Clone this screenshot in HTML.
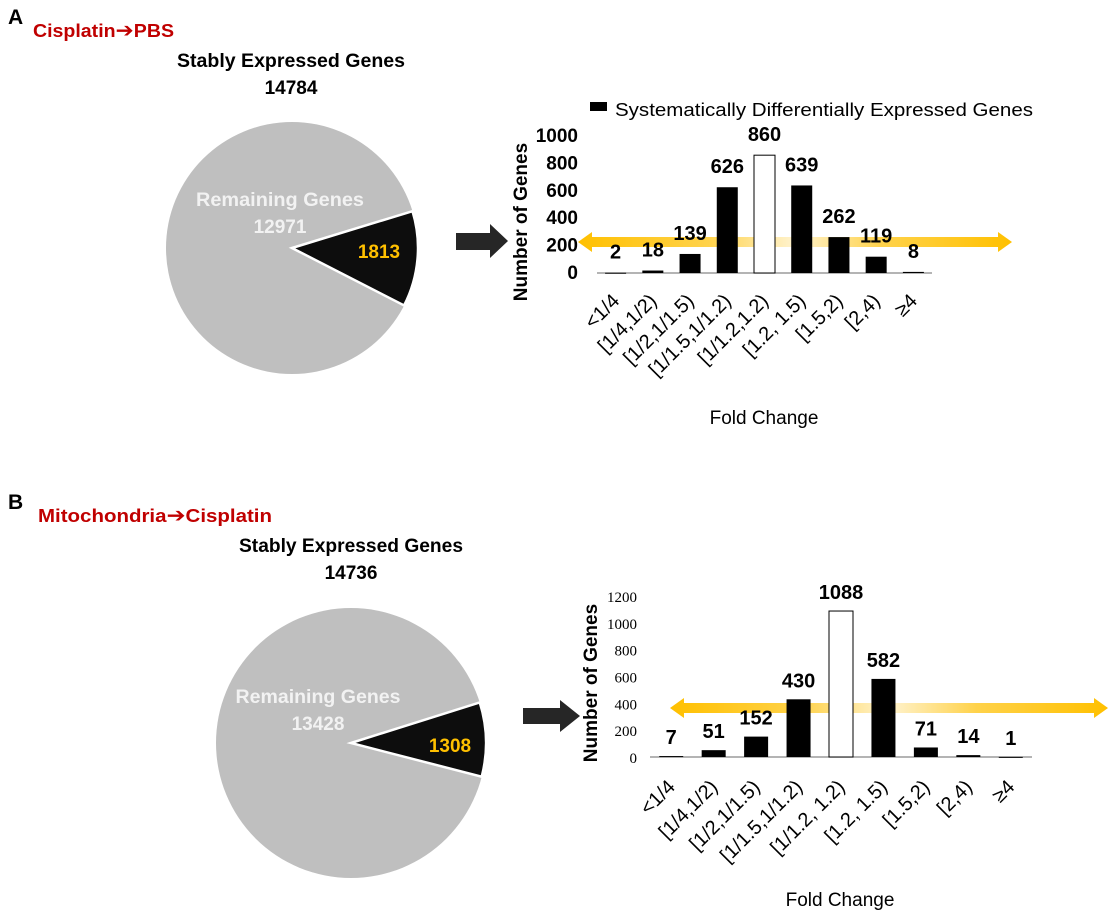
<!DOCTYPE html>
<html><head><meta charset="utf-8"><style>
body{margin:0;background:#fff}
svg{display:block;font-family:"Liberation Sans",sans-serif}
.arr{font-family:"DejaVu Sans",sans-serif;font-weight:bold}
</style></head><body>
<svg id="fig" width="1113" height="919" viewBox="0 0 1113 919">
<defs>
<linearGradient id="gy" x1="0" x2="1" y1="0" y2="0">
<stop offset="0" stop-color="#ffc000"/><stop offset="0.3" stop-color="#ffd24a"/><stop offset="0.5" stop-color="#fff3cf"/><stop offset="0.7" stop-color="#ffd24a"/><stop offset="1" stop-color="#ffc000"/>
</linearGradient>
</defs>
<g>
<text x="8" y="24" font-size="21" font-weight="bold">A</text>
<text x="33" y="37" font-size="18" font-weight="bold" fill="#c00000" textLength="141" lengthAdjust="spacingAndGlyphs">Cisplatin<tspan class="arr" font-size="20">➔</tspan>PBS</text>
<text x="291" y="67" font-size="19" font-weight="bold" text-anchor="middle" textLength="228" lengthAdjust="spacingAndGlyphs">Stably Expressed Genes</text>
<text x="291" y="94" font-size="19" font-weight="bold" text-anchor="middle">14784</text>
<g id="pieA"></g>
<polygon points="456,233 490,233 490,224 508,241 490,258 490,250 456,250" fill="#262626"/>
<g id="chartA"></g>
</g>
<g>
<text x="8" y="509" font-size="21" font-weight="bold">B</text>
<text x="38" y="522" font-size="18" font-weight="bold" fill="#c00000" textLength="234" lengthAdjust="spacingAndGlyphs">Mitochondria<tspan class="arr" font-size="20">➔</tspan>Cisplatin</text>
<text x="351" y="552" font-size="19" font-weight="bold" text-anchor="middle" textLength="224" lengthAdjust="spacingAndGlyphs">Stably Expressed Genes</text>
<text x="351" y="579" font-size="19" font-weight="bold" text-anchor="middle">14736</text>
<g id="pieB"></g>
<polygon points="523,708 560,708 560,700 580,716 560,732 560,724 523,724" fill="#262626"/>
<g id="chartB"></g>
</g>
</svg>
<script>
const categories = ["<1/4","[1/4,1/2)","[1/2,1/1.5)","[1/1.5,1/1.2)","[1/1.2,1.2)","[1.2, 1.5)","[1.5,2)","[2,4)","≥4"];
const categoriesB = ["<1/4","[1/4,1/2)","[1/2,1/1.5)","[1/1.5,1/1.2)","[1/1.2, 1.2)","[1.2, 1.5)","[1.5,2)","[2,4)","≥4"];
const valuesA = [2,18,139,626,860,639,262,119,8];
const valuesB = [7,51,152,430,1088,582,71,14,1];
const ticksA = [0,200,400,600,800,1000];
const ticksB = [0,200,400,600,800,1000,1200];
const pieA = [12971,1813];
const pieB = [13428,1308];
const NS="http://www.w3.org/2000/svg";
function mk(tag,attrs,parent,txt){const e=document.createElementNS(NS,tag);for(const k in attrs)e.setAttribute(k,attrs[k]);if(txt!==undefined)e.textContent=txt;parent.appendChild(e);return e;}

function drawPie(g,vals,cx,cy,r,startDeg,labels){
  const total=vals[0]+vals[1];
  const a1=startDeg*Math.PI/180;
  const sweep=vals[1]/total*2*Math.PI;
  const a2=a1+sweep;
  const bg=mk('circle',{cx:cx,cy:cy,r:r,fill:'#bfbfbf'},g);
  
  
  const p1=[cx+r*Math.cos(a1),cy+r*Math.sin(a1)],p2=[cx+r*Math.cos(a2),cy+r*Math.sin(a2)];
  const sl=mk('path',{d:`M${cx},${cy}L${p1[0]},${p1[1]}A${r},${r} 0 0 1 ${p2[0]},${p2[1]}Z`,fill:'#0d0d0d',stroke:'#fff','stroke-width':2.5},g);
  
  
  const t1=mk('text',{x:labels.rx,y:labels.ry,'font-size':19,'font-weight':'bold',fill:'#f2f2f2','text-anchor':'middle',textLength:labels.rw,lengthAdjust:'spacingAndGlyphs'},g,'Remaining Genes');
  
  
  const t2=mk('text',{x:labels.rx,y:labels.ry+27,'font-size':19,'font-weight':'bold',fill:'#f2f2f2','text-anchor':'middle'},g,String(vals[0]));
  
  
  const t3=mk('text',{x:labels.dx,y:labels.dy,'font-size':19,'font-weight':'bold',fill:'#ffc000','text-anchor':'middle'},g,String(vals[1]));
  
  
}
drawPie(document.getElementById('pieA'),pieA,292,248,126,-17,{rx:280,ry:206,rw:168,dx:379,dy:258});
drawPie(document.getElementById('pieB'),pieB,351,743,135,-17.5,{rx:318,ry:703,rw:165,dx:450,dy:752});

function drawChart(g,o){
  const n=o.cats.length,bw=(o.x1-o.x0)/n;
  const y=v=>o.base-(v/o.max)*(o.base-o.top);
  const xc=i=>o.x0+bw*(i+0.5);
  o.ticks.forEach(t=>{
    const e=mk('text',{x:o.tickX,y:y(t)+6,'font-size':o.tickFS,'font-weight':o.tickW,'font-family':o.tickFont,'text-anchor':'end'},g,String(t));
    
    
  });
  const ay=o.arrowY,ax0=o.ax0,ax1=o.ax1;
  const ar=mk('polygon',{points:`${ax0},${ay} ${ax0+14},${ay-10} ${ax0+14},${ay-5} ${ax1-14},${ay-5} ${ax1-14},${ay-10} ${ax1},${ay} ${ax1-14},${ay+10} ${ax1-14},${ay+5} ${ax0+14},${ay+5} ${ax0+14},${ay+10}`,fill:'url(#gy)'},g);
  
  
  const ax=mk('line',{x1:o.x0,x2:o.x1,y1:o.base,y2:o.base,stroke:'#888','stroke-width':1.3},g);
  
  
  o.vals.forEach((v,i)=>{
    const c=xc(i),top=y(v);
    const white=i===4;
    const r=mk('rect',{x:c-o.barW/2,y:top,width:o.barW,height:Math.max(o.base-top,1),fill:white?'#fff':'#000',stroke:white?'#000':'none','stroke-width':1},g);
    
    
    const t=mk('text',{x:c,y:top-o.valOff,'font-size':20,'font-weight':'bold','text-anchor':'middle'},g,String(v));
    
    
    const cl=mk('text',{x:c+5,y:o.catY,'font-size':20,'text-anchor':'end',transform:`rotate(-45 ${c+5} ${o.catY})`},g,o.cats[i]);
    
    
  });
  const yt=mk('text',{x:o.ytX,y:o.ytY,'font-size':19,'font-weight':'bold','text-anchor':'middle',transform:`rotate(-90 ${o.ytX} ${o.ytY})`},g,'Number of Genes');
  
  
  const xt=mk('text',{x:o.xtX,y:o.xtY,'font-size':19,'text-anchor':'middle'},g,'Fold Change');
  
  
}
const gA=document.getElementById('chartA');
drawChart(gA,{cats:categories,vals:valuesA,ticks:ticksA,max:1000,x0:597,x1:932,base:273,top:136,barW:21,
  tickX:578,tickFS:19,tickW:'bold',tickFont:'Liberation Sans',valOff:14,catY:302,ytX:527,ytY:222,xtX:764,xtY:424,
  arrowY:242,ax0:578,ax1:1012});
const lg=mk('rect',{x:590,y:102,width:17,height:9,fill:'#000'},gA);


const lt=mk('text',{x:615,y:116,'font-size':18,textLength:418,lengthAdjust:'spacingAndGlyphs'},gA,'Systematically Differentially Expressed Genes');


drawChart(document.getElementById('chartB'),{cats:categoriesB,vals:valuesB,ticks:ticksB,max:1200,x0:650,x1:1032,base:757,top:596,barW:24,
  tickX:637,tickFS:15,tickW:'normal',tickFont:'Liberation Serif',valOff:12,catY:788,ytX:597,ytY:683,xtX:840,xtY:906,
  arrowY:708,ax0:670,ax1:1108});
</script>
</body></html>
